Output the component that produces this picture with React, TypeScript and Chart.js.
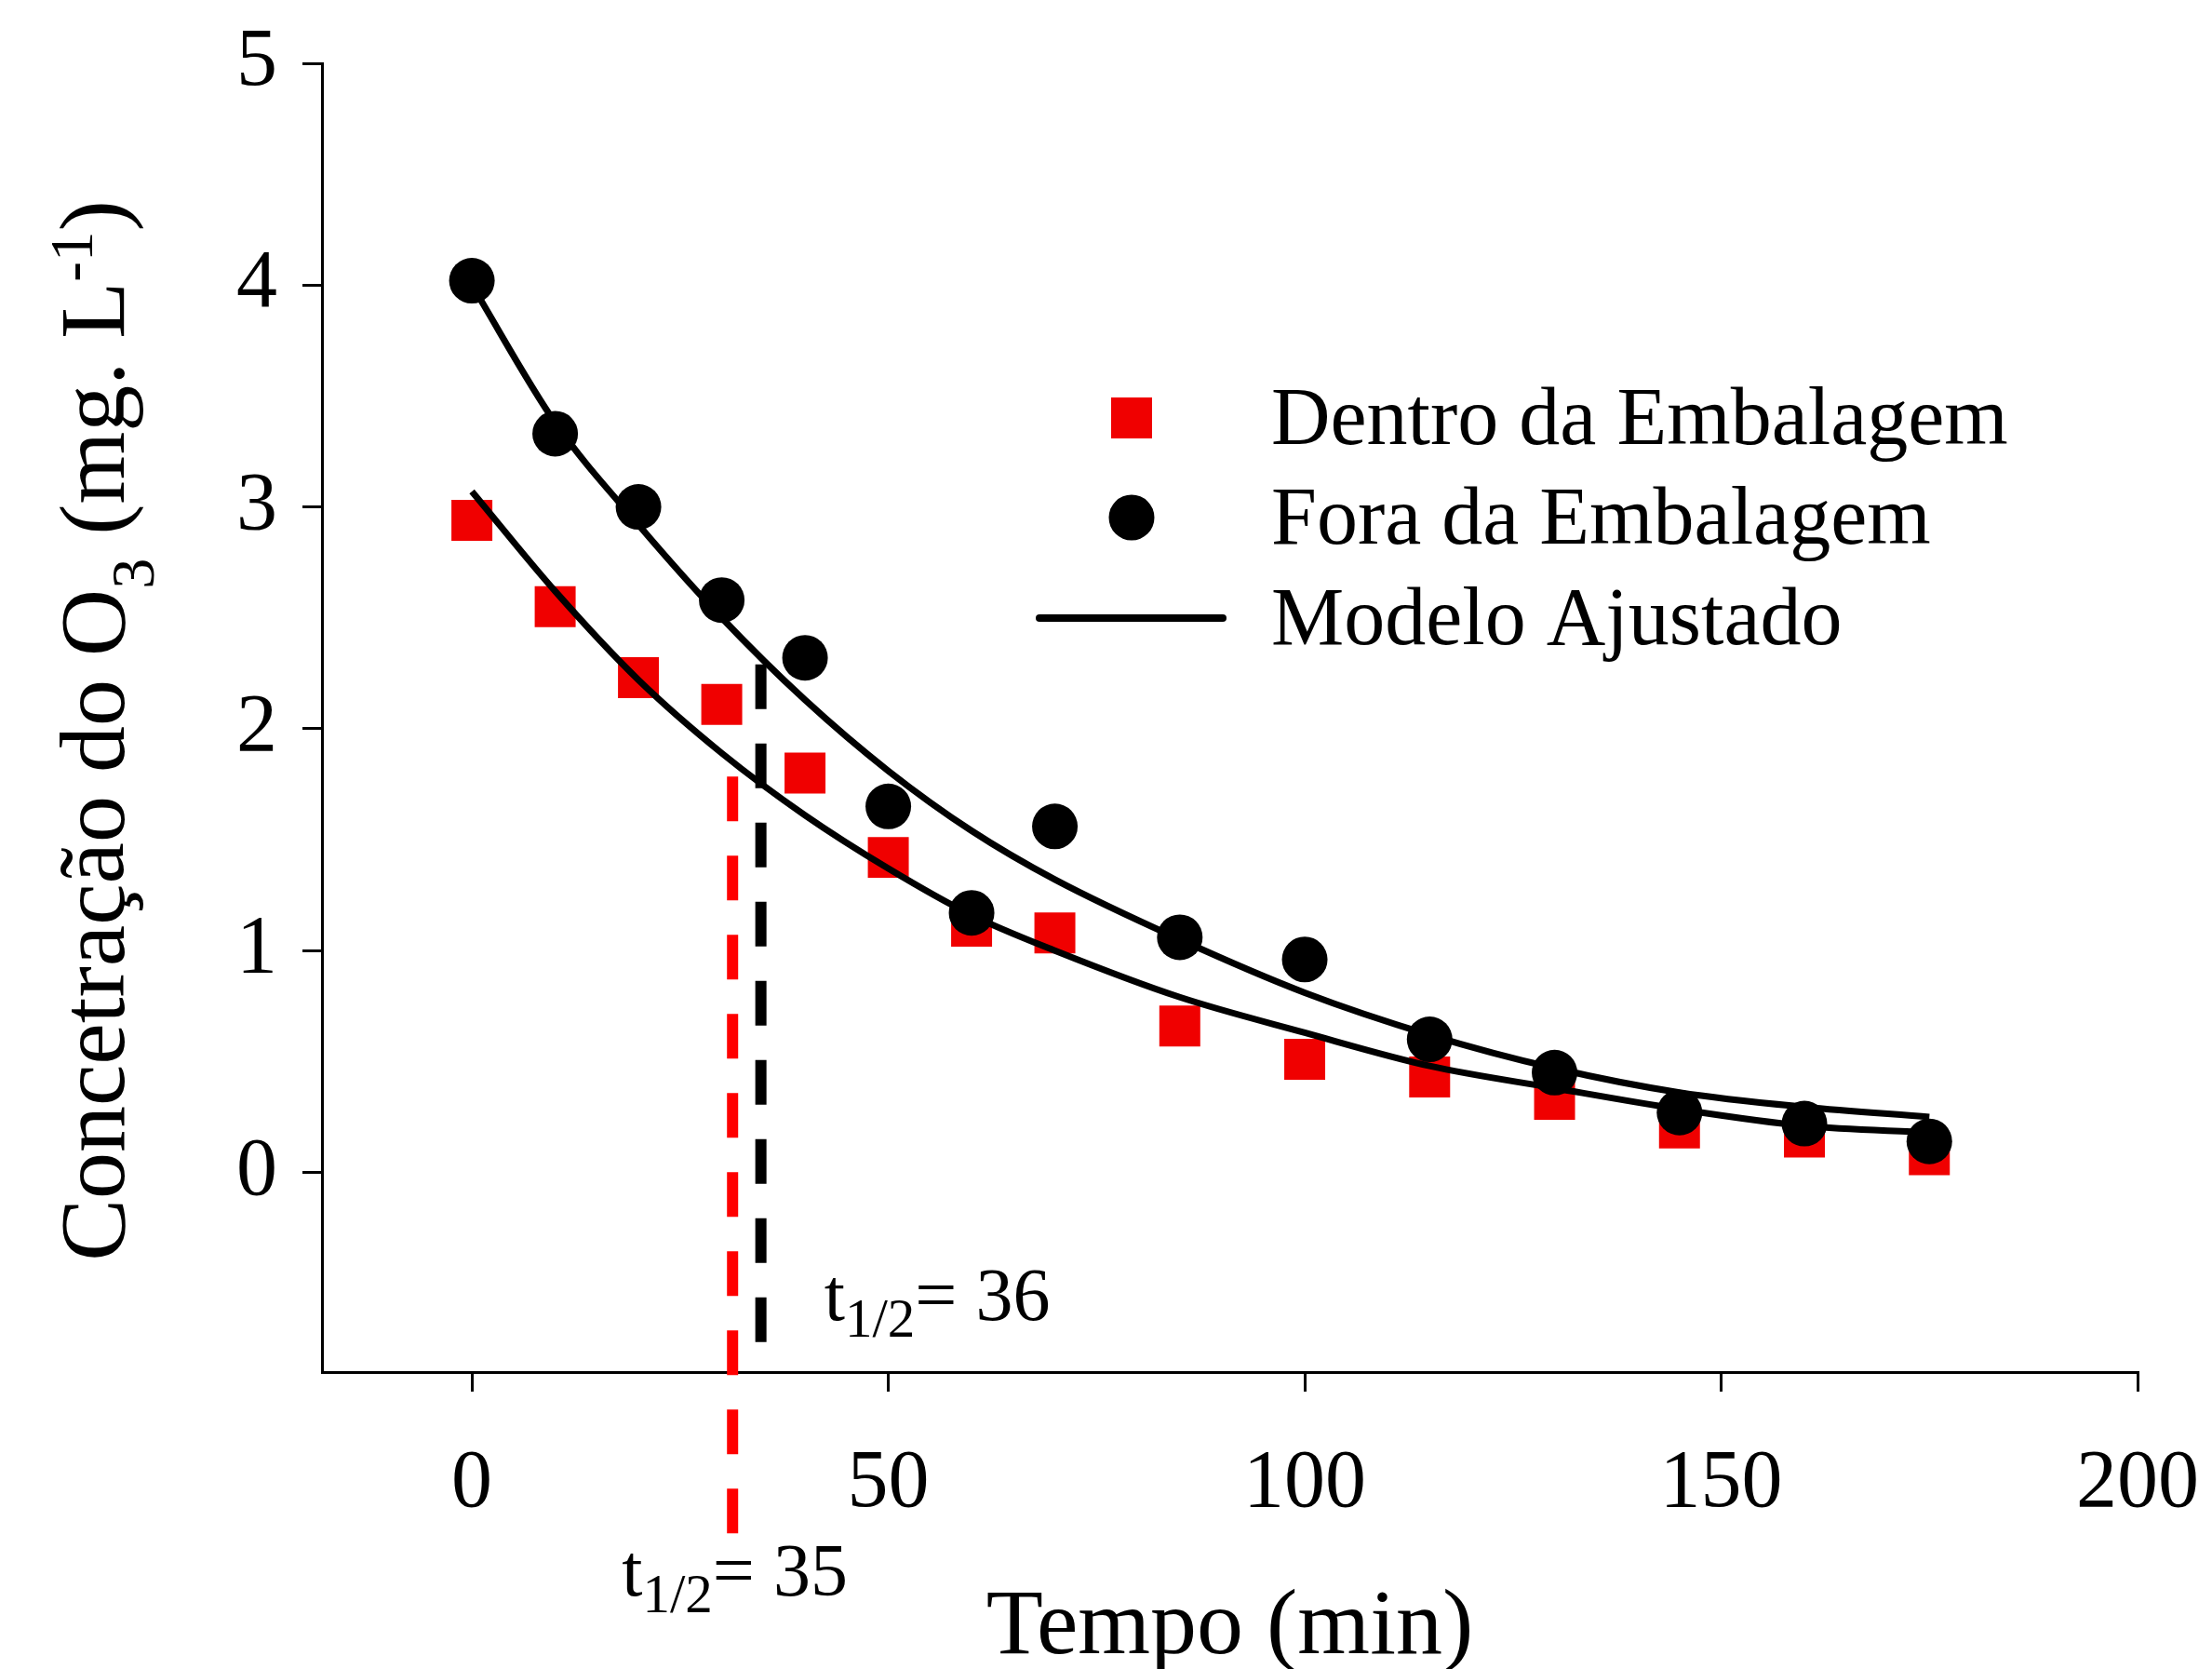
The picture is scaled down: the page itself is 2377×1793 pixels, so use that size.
import React, { useEffect, useRef } from 'react';
import { Chart, registerables } from 'chart.js';

Chart.register(...registerables);

// ---------- data ----------
const timeMin = [0, 10, 20, 30, 40, 50, 60, 70, 85, 100, 115, 130, 145, 160, 175];
const dentroEmbalagem = [2.94, 2.55, 2.23, 2.11, 1.8, 1.42, 1.11, 1.08, 0.66, 0.51, 0.43, 0.33, 0.2, 0.16, 0.08];
const foraEmbalagem = [4.02, 3.33, 3.0, 2.58, 2.32, 1.65, 1.17, 1.56, 1.06, 0.96, 0.6, 0.45, 0.27, 0.22, 0.14];
const modeloDentro = [3.07, 2.62, 2.22, 1.89, 1.61, 1.37, 1.16, 1.0, 0.79, 0.63, 0.48, 0.38, 0.285, 0.21, 0.18];
const modeloFora = [4.0, 3.38, 2.92, 2.5, 2.13, 1.81, 1.54, 1.32, 1.05, 0.81, 0.62, 0.47, 0.36, 0.295, 0.25];

const halfLifeDentroX = [31.3, 31.3];
const halfLifeDentroY = [1.785, -1.627];
const halfLifeForaX = [34.7, 34.7];
const halfLifeForaY = [2.29, -0.77];

const halfLifeDentroLabel = ['t', '1/2', '= 35'];
const halfLifeForaLabel = ['t', '1/2', '= 36'];
// label anchors in data units (x, baseline y)
const halfLifeDentroAnchor = [18.0, -1.909];
const halfLifeForaAnchor = [42.3, -0.667];

const xTicks = [0, 50, 100, 150, 200];
const yTicks = [0, 1, 2, 3, 4, 5];

const legendLabels = ['Dentro da Embalagem', 'Fora da Embalagem', 'Modelo Ajustado'];
const xTitle = 'Tempo (min)';

// ---------- styles ----------
const SERIF = "'Liberation Serif', 'Times New Roman', serif";
const RED = '#F00000';
const RED_DASH = '#FF0000';

type Run = { t: string; s: number; dy: number };

function drawRuns(ctx: CanvasRenderingContext2D, runs: Run[], base: number, x0: number, y0: number, align: 'left' | 'center') {
  const widths = runs.map((r) => {
    ctx.font = `${Math.round(base * r.s)}px ${SERIF}`;
    return ctx.measureText(r.t).width;
  });
  const total = widths.reduce((a, b) => a + b, 0);
  let x = align === 'center' ? x0 - total / 2 : x0;
  ctx.textAlign = 'left';
  ctx.textBaseline = 'alphabetic';
  runs.forEach((r, i) => {
    ctx.font = `${Math.round(base * r.s)}px ${SERIF}`;
    ctx.fillText(r.t, x, y0 + r.dy);
    x += widths[i];
  });
}

const overlayPlugin = {
  id: 'overlay',
  afterDatasetsDraw(chart: any) {
    const ctx: CanvasRenderingContext2D = chart.ctx;
    const xs = chart.scales.x;
    const ys = chart.scales.y;
    const area = chart.chartArea;
    ctx.save();
    ctx.fillStyle = '#000';

    // y-axis title with subscript / superscript
    ctx.save();
    ctx.translate(133, 785);
    ctx.rotate(-Math.PI / 2);
    drawRuns(
      ctx,
      [
        { t: 'Concetração do O', s: 1, dy: 0 },
        { t: '3', s: 0.66, dy: 32 },
        { t: ' (mg. L', s: 1, dy: 0 },
        { t: '-1', s: 0.65, dy: -34 },
        { t: ')', s: 1, dy: 0 },
      ],
      100,
      0,
      0,
      'center'
    );
    ctx.restore();

    // x-axis title
    ctx.font = `100px ${SERIF}`;
    ctx.textAlign = 'center';
    ctx.textBaseline = 'alphabetic';
    ctx.fillText(xTitle, (area.left + area.right) / 2, 1776);

    // half-life labels
    const labels: [string[], number[]][] = [
      [halfLifeForaLabel, halfLifeForaAnchor],
      [halfLifeDentroLabel, halfLifeDentroAnchor],
    ];
    labels.forEach(([txt, anc]) => {
      drawRuns(
        ctx,
        [
          { t: txt[0], s: 1, dy: 0 },
          { t: txt[1], s: 0.74, dy: 18 },
          { t: txt[2], s: 1, dy: 0 },
        ],
        80,
        xs.getPixelForValue(anc[0]),
        ys.getPixelForValue(anc[1]),
        'left'
      );
    });

    // legend
    ctx.fillStyle = RED;
    ctx.fillRect(1194, 427, 44, 44);
    ctx.fillStyle = '#000';
    ctx.beginPath();
    ctx.arc(1216, 556, 24.5, 0, Math.PI * 2);
    ctx.fill();
    ctx.strokeStyle = '#000';
    ctx.lineWidth = 8;
    ctx.lineCap = 'round';
    ctx.beginPath();
    ctx.moveTo(1117, 664);
    ctx.lineTo(1314, 664);
    ctx.stroke();
    ctx.font = `88px ${SERIF}`;
    ctx.textAlign = 'left';
    ctx.textBaseline = 'alphabetic';
    const baselines = [477, 584, 692];
    legendLabels.forEach((l, i) => ctx.fillText(l, 1366, baselines[i]));

    ctx.restore();
  },
};

function pts(xsArr: number[], ysArr: number[]) {
  return xsArr.map((x, i) => ({ x, y: ysArr[i] }));
}

export default function App() {
  const ref = useRef<HTMLCanvasElement | null>(null);

  useEffect(() => {
    if (!ref.current) return;
    document.body.style.margin = '0';
    const tickFont = { family: SERIF, size: 88 };
    const chart = new Chart(ref.current, {
      type: 'scatter',
      data: {
        datasets: [
          {
            label: legendLabels[0],
            data: pts(timeMin, dentroEmbalagem),
            pointStyle: 'rect',
            pointRadius: 31.1,
            pointBackgroundColor: RED,
            pointBorderWidth: 0,
            backgroundColor: RED,
            borderWidth: 0,
            order: 4,
          },
          {
            label: legendLabels[2] + ' (dentro)',
            data: pts(timeMin, modeloDentro),
            showLine: true,
            pointRadius: 0,
            borderColor: '#000',
            borderWidth: 7,
            cubicInterpolationMode: 'monotone',
            order: 2,
          },
          {
            label: legendLabels[2] + ' (fora)',
            data: pts(timeMin, modeloFora),
            showLine: true,
            pointRadius: 0,
            borderColor: '#000',
            borderWidth: 7,
            cubicInterpolationMode: 'monotone',
            order: 2,
          },
          {
            label: legendLabels[1],
            data: pts(timeMin, foraEmbalagem),
            pointStyle: 'circle',
            pointRadius: 24.5,
            pointBackgroundColor: '#000',
            pointBorderWidth: 0,
            backgroundColor: '#000',
            borderWidth: 0,
            order: 1,
          },
          {
            label: 't1/2 dentro',
            data: pts(halfLifeDentroX, halfLifeDentroY),
            showLine: true,
            pointRadius: 0,
            borderColor: RED_DASH,
            borderWidth: 12,
            borderDash: [48, 37],
            borderCapStyle: 'butt',
            clip: false,
            order: 3,
          },
          {
            label: 't1/2 fora',
            data: pts(halfLifeForaX, halfLifeForaY),
            showLine: true,
            pointRadius: 0,
            borderColor: '#000',
            borderWidth: 12,
            borderDash: [48, 37],
            borderCapStyle: 'butt',
            clip: false,
            order: 3,
          },
        ] as any,
      },
      options: {
        animation: false,
        responsive: false,
        events: [],
        layout: { padding: { left: 0, top: 68, right: 80, bottom: 0 } },
        plugins: {
          legend: { display: false },
          tooltip: { enabled: false },
        },
        scales: {
          x: {
            type: 'linear',
            min: -18,
            max: 200,
            afterBuildTicks: (s: any) => {
              s.ticks = xTicks.map((v) => ({ value: v }));
            },
            afterFit: (s: any) => {
              s.height = 319;
              s.paddingLeft = 0;
              s.paddingRight = 0;
              s.paddingTop = 0;
              s.paddingBottom = 0;
            },
            ticks: {
              font: tickFont,
              color: '#000',
              padding: 47,
              maxRotation: 0,
              autoSkip: false,
              callback: (v: any) => String(v),
            },
            grid: {
              display: true,
              drawOnChartArea: false,
              drawTicks: true,
              tickLength: 21,
              color: '#000',
              lineWidth: 3,
            },
            border: { display: true, color: '#000', width: 3 },
          },
          y: {
            type: 'linear',
            min: -0.9,
            max: 5,
            afterBuildTicks: (s: any) => {
              s.ticks = yTicks.map((v) => ({ value: v }));
            },
            afterFit: (s: any) => {
              s.width = 346;
              s.paddingLeft = 0;
              s.paddingRight = 0;
              s.paddingTop = 0;
              s.paddingBottom = 0;
            },
            ticks: {
              font: tickFont,
              color: '#000',
              padding: 27,
              autoSkip: false,
              callback: (v: any) => String(v),
            },
            grid: {
              display: true,
              drawOnChartArea: false,
              drawTicks: true,
              tickLength: 21,
              color: '#000',
              lineWidth: 3,
            },
            border: { display: true, color: '#000', width: 3 },
          },
        },
      } as any,
      plugins: [overlayPlugin],
    });
    return () => chart.destroy();
  }, []);

  return (
    <div style={{ position: 'absolute', left: 0, top: 0, width: 2377, height: 1793, background: '#fff' }}>
      <canvas ref={ref} width={2377} height={1793} />
    </div>
  );
}
